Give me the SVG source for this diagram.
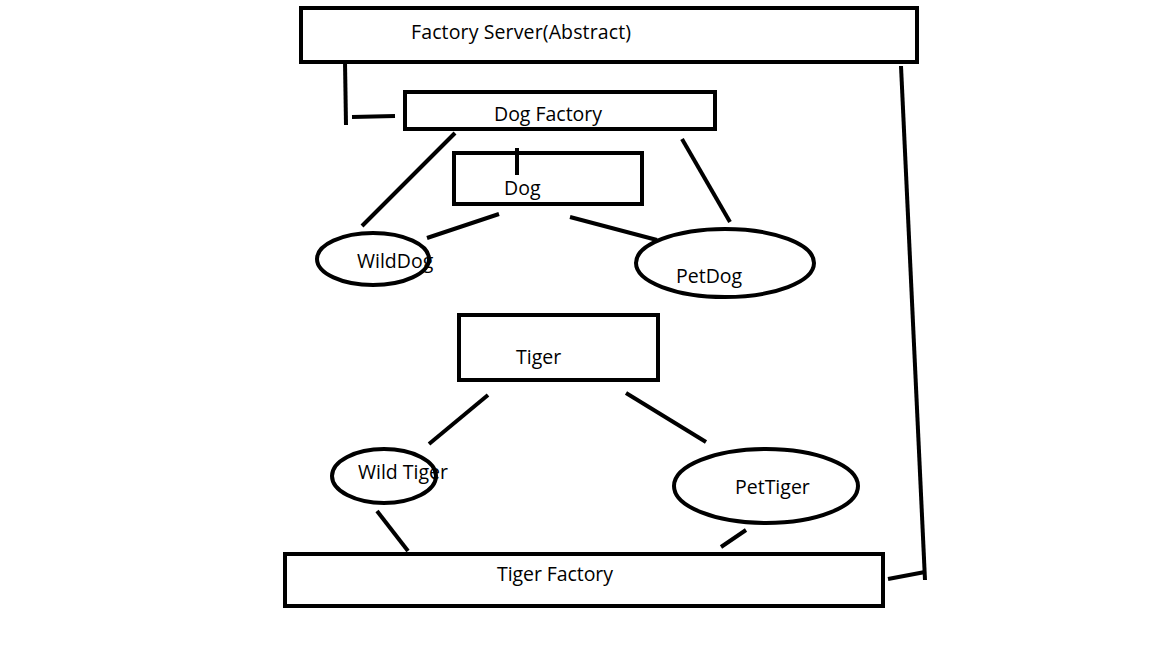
<svg xmlns="http://www.w3.org/2000/svg" width="1152" height="648" viewBox="0 0 1152 648">
<style>
.n{fill:#fff;stroke:#000;stroke-width:4}
.c line{stroke:#000;stroke-width:4;fill:none}
text{font-family:"Open Sans","Liberation Sans",sans-serif;font-size:19.5px;fill:#000}
</style>
<rect width="1152" height="648" fill="#fff"/>
<g class="c" id="connectors">
<line x1="345" y1="62" x2="346" y2="125"/>
<line x1="352" y1="117" x2="395" y2="116"/>
<line x1="901" y1="66" x2="925" y2="580"/>
<line x1="888" y1="579" x2="925" y2="572"/>
<line x1="517" y1="148" x2="517" y2="175"/>
<line x1="455" y1="133" x2="362" y2="226"/>
<line x1="682" y1="139" x2="730" y2="222"/>
<line x1="427" y1="238" x2="499" y2="214"/>
<line x1="570" y1="217" x2="657" y2="240"/>
<line x1="488" y1="395" x2="429" y2="444"/>
<line x1="626" y1="393" x2="706" y2="442"/>
<line x1="377" y1="511" x2="408" y2="551"/>
<line x1="746" y1="530" x2="721" y2="547"/>
</g>
<g id="factory-server"><rect class="n" x="301" y="8" width="616" height="54"/><text x="411" y="39" textLength="220">Factory Server(Abstract)</text></g>
<g id="dog-factory"><rect class="n" x="405" y="92" width="310" height="37"/><text x="494" y="121" textLength="108">Dog Factory</text></g>
<g id="dog"><rect class="n" x="454" y="153" width="188" height="51" fill-opacity="0"/><text x="504" y="195">Dog</text></g>
<g id="wilddog"><ellipse class="n" cx="373" cy="259" rx="56" ry="26" fill="none"/><text x="357" y="268">WildDog</text></g>
<g id="petdog"><ellipse class="n" cx="725" cy="263" rx="89" ry="34" fill="none"/><text x="676" y="283">PetDog</text></g>
<g id="tiger"><rect class="n" x="459" y="315" width="199" height="65"/><text x="516" y="364">Tiger</text></g>
<g id="wild-tiger"><ellipse class="n" cx="384" cy="476" rx="52" ry="27" fill="none"/><text x="358" y="479" textLength="90">Wild Tiger</text></g>
<g id="pettiger"><ellipse class="n" cx="766" cy="486" rx="92" ry="37" fill="none"/><text x="735" y="494">PetTiger</text></g>
<g id="tiger-factory"><rect class="n" x="285" y="554" width="598" height="52"/><text x="497" y="581" textLength="116">Tiger Factory</text></g>
</svg>
